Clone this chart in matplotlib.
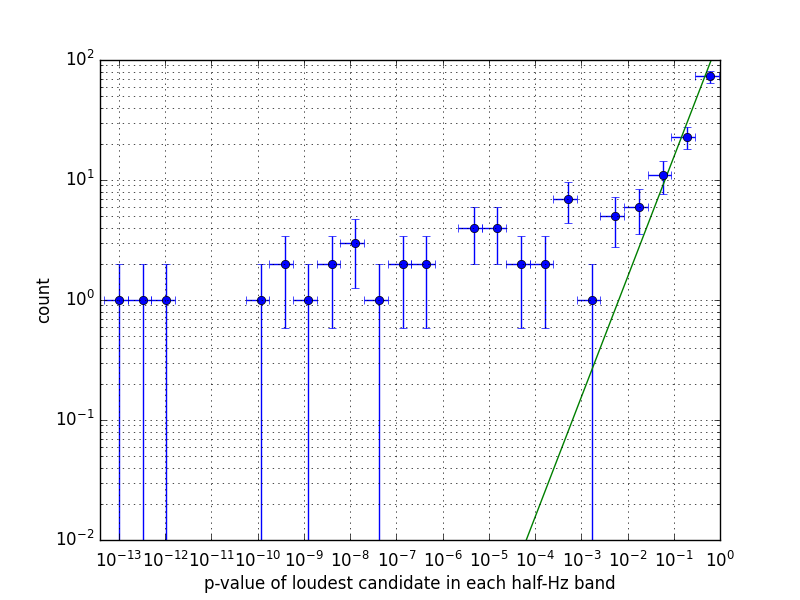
import numpy as np
import matplotlib
matplotlib.use('Agg')
import matplotlib.pyplot as plt

# log10 of the half-Hz band p-value histogram bin edges
edge_exp = [-13.33, -12.81, -12.30, -11.79, -11.28, -10.77, -10.26, -9.75,
            -9.23, -8.72, -8.21, -7.70, -7.19, -6.68, -6.17, -5.66, -5.14,
            -4.63, -4.12, -3.61, -3.10, -2.59, -2.08, -1.56, -1.05, -0.54,
            -0.03]
# number of bands whose loudest candidate falls in each bin
counts = [1, 1, 1, 0, 0, 0, 1, 2, 1, 2, 3, 1, 2, 2, 0, 4, 4, 2, 2, 7, 1, 5,
          6, 11, 23, 73]

plt.style.use('classic')

edges = 10.0 ** np.array(edge_exp)
lo, hi = edges[:-1], edges[1:]
centre = (lo + hi) / 2.
n = np.array(counts, dtype=float)
keep = n > 0

fig, ax = plt.subplots(figsize=(8, 6))
ax.set_xscale('log')
ax.set_yscale('log')

ax.errorbar(centre[keep], n[keep],
            xerr=[centre[keep] - lo[keep], hi[keep] - centre[keep]],
            yerr=np.sqrt(n[keep]), fmt='o', color='b', ecolor='b')

# expected count if p-values were uniform
total = n.sum()
p = np.logspace(-13.41, 0, 200)
ax.plot(p, total * p, 'g-')

ax.set_xlim(10 ** -13.41, 1)
ax.set_ylim(1e-2, 1e2)
ax.grid(True, which='both')
ax.tick_params(axis='x', which='major', pad=7.5)
ax.set_xlabel('p-value of loudest candidate in each half-Hz band', labelpad=3)
ax.set_ylabel('count', labelpad=1)

fig.savefig('out.png', dpi=100)
